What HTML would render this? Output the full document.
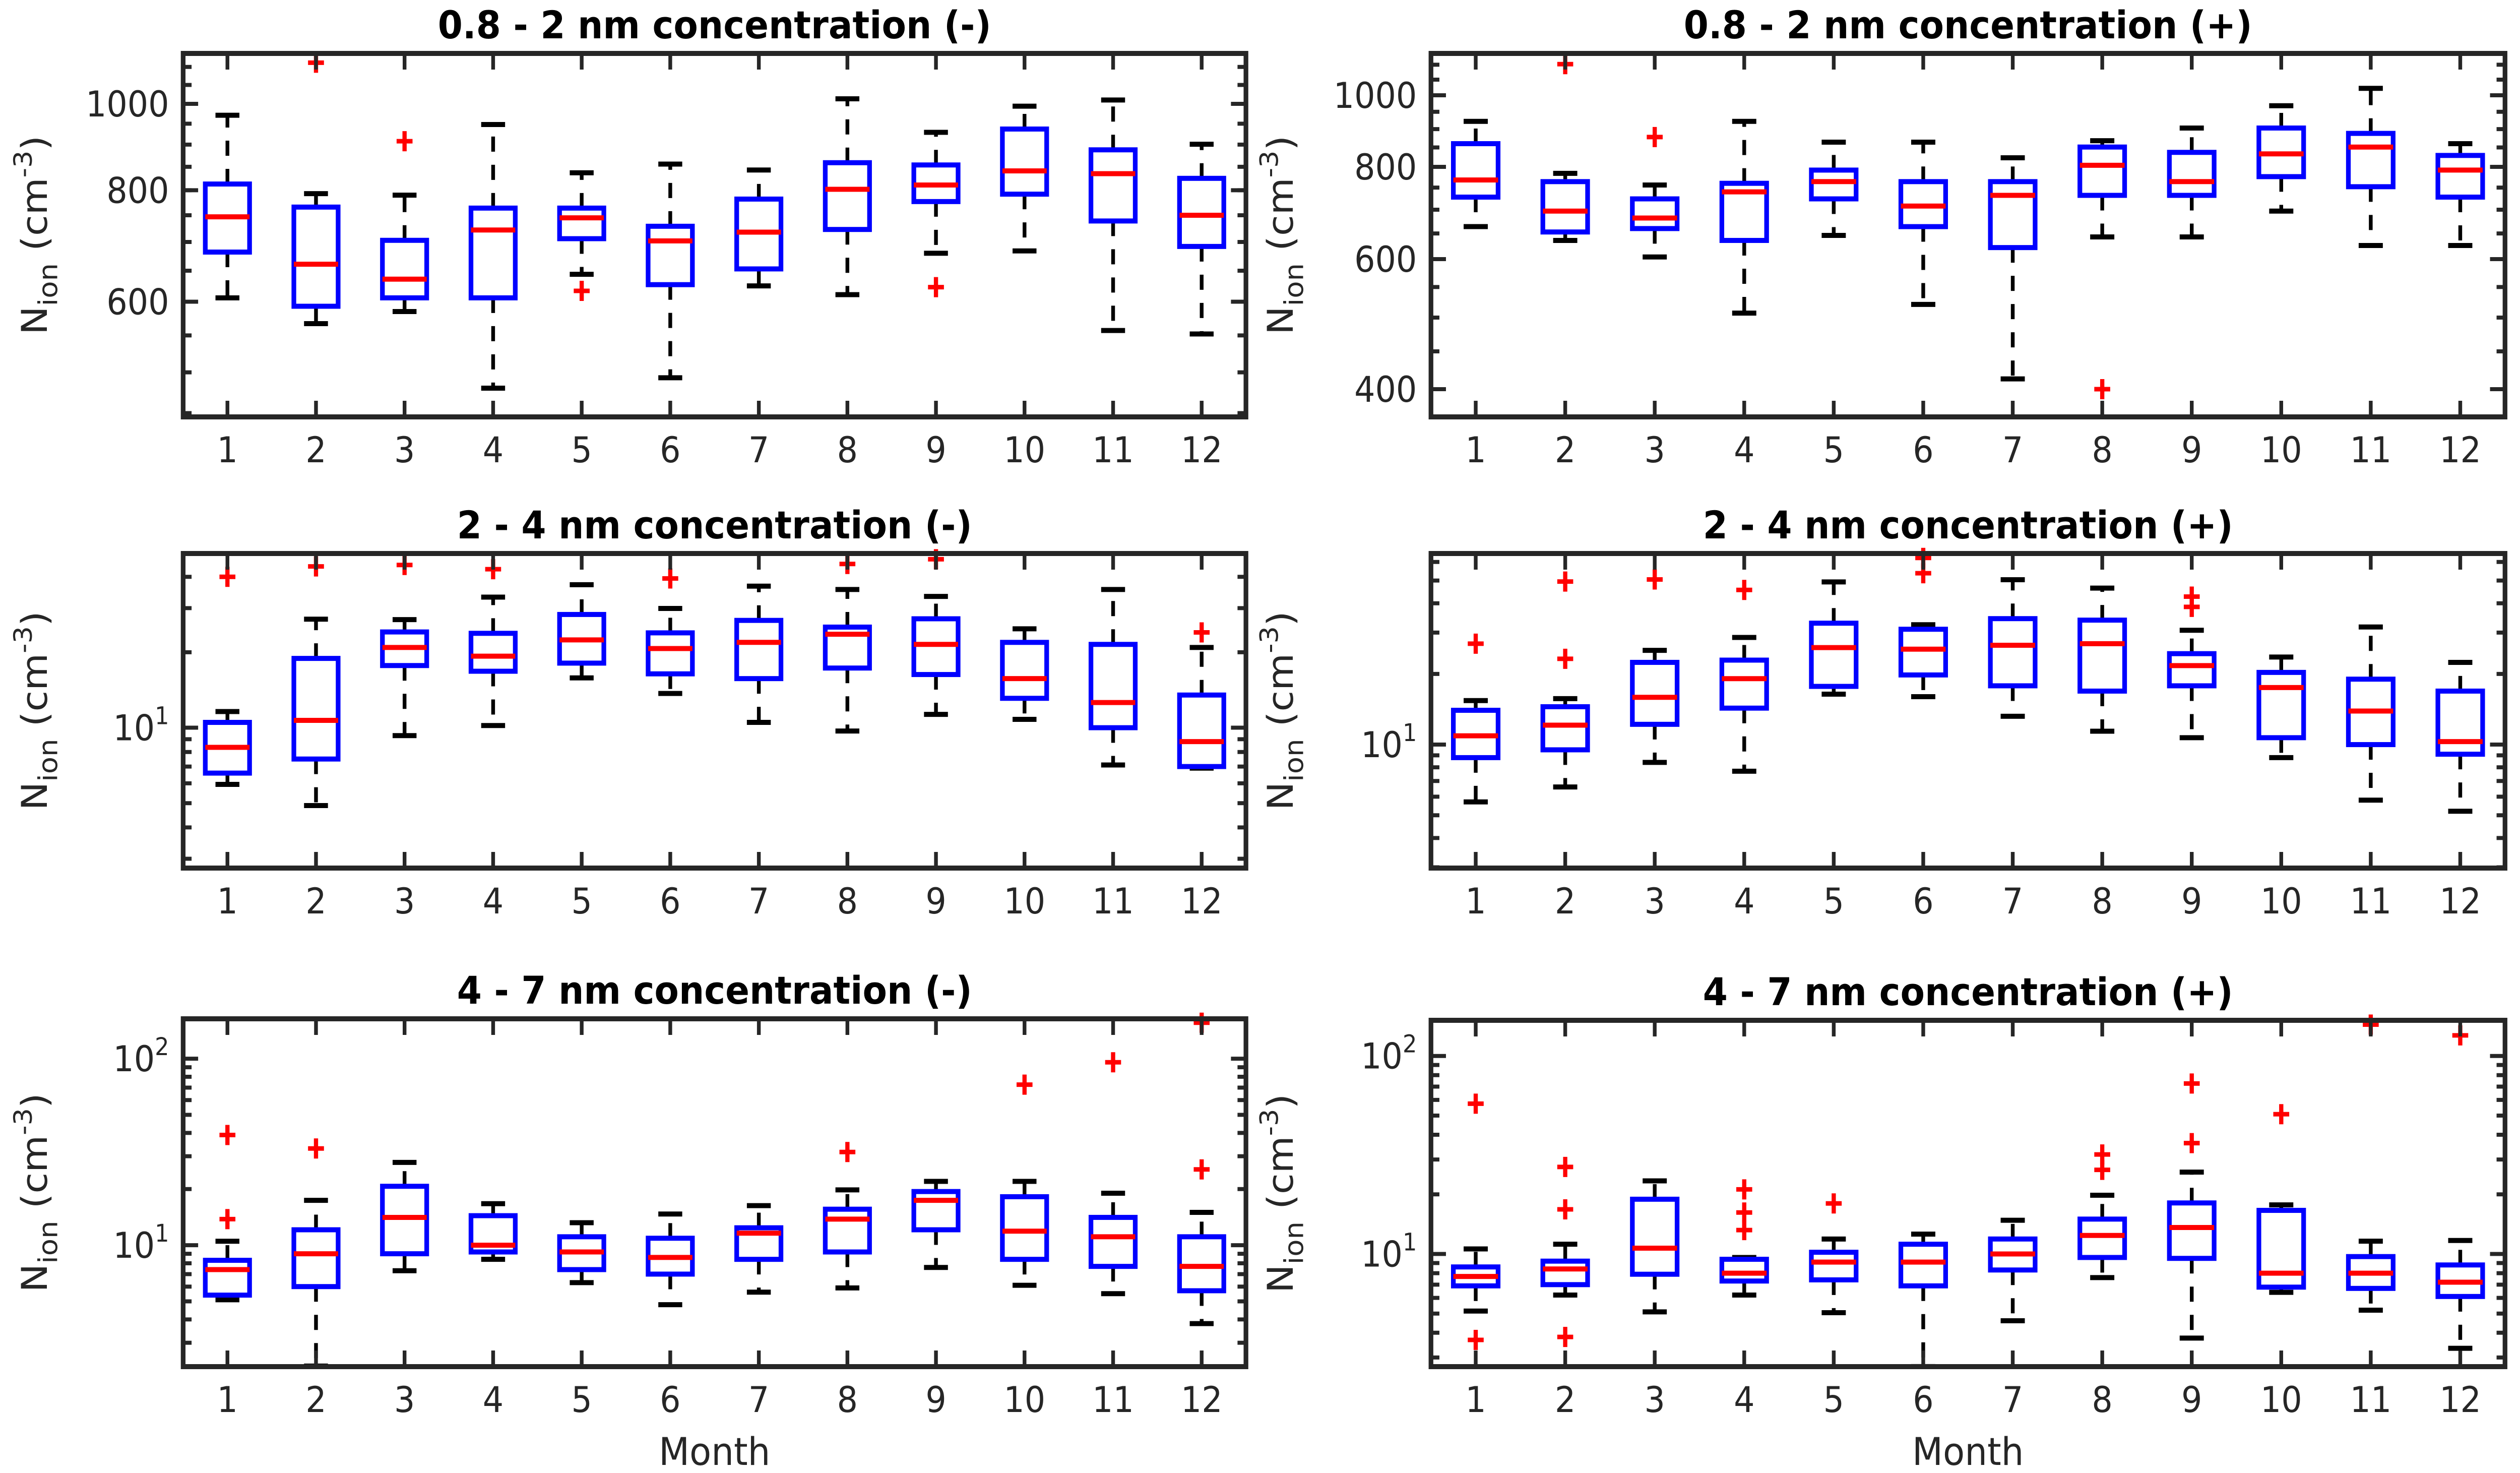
<!DOCTYPE html>
<html><head><meta charset="utf-8"><style>
html,body{margin:0;padding:0;background:#fff;overflow:hidden;width:100%;height:100%}
svg{display:block;width:100vw;height:100vh}
text{font-family:"DejaVu Sans","Liberation Sans",sans-serif;fill:#262626}
</style></head><body>
<svg id="fig" xmlns="http://www.w3.org/2000/svg" viewBox="0 0 5380 2922" preserveAspectRatio="none"></svg>
<script>
const months=[1,2,3,4,5,6,7,8,9,10,11,12];
const monthLabels=["1","2","3","4","5","6","7","8","9","10","11","12"];
// Panel 1: 0.8-2 nm (-)
const p1High=[971,793,790,948,837,856,843,1013,929,994,1010,901];
const p1Q3=[813,766,703,764,764,729,782,859,854,937,888,825];
const p1Med=[747,661,636,722,745,702,718,802,811,841,835,750];
const p1Q1=[682,593,606,606,706,627,653,723,777,792,739,692];
const p1Low=[606,567,585,480,644,493,625,611,680,684,557,552];
const p1Out=[[],[1112],[908],[],[617],[],[],[],[623],[],[],[]];
// Panel 2: 0.8-2 nm (+)
const p2High=[922,784,756,922,864,864,823,868,903,968,1022,860];
const p2Q3=[860,764,724,760,792,764,764,851,837,903,888,829];
const p2Med=[768,697,682,740,764,708,732,804,764,833,851,792];
const p2Q1=[728,653,660,636,724,664,622,732,732,776,752,728];
const p2Low=[664,636,604,507,646,521,413,643,643,697,626,626];
const p2Out=[[],[1102],[878],[],[],[],[],[400],[],[],[],[]];
// Panel 3: 2-4 nm (-)
const p3High=[11.6,27.1,27,33.2,37.2,29.9,36.7,35.6,33.4,24.8,35.6,20.9];
const p3Q3=[10.5,18.9,24.1,23.8,28.3,23.9,26.8,25.2,27.2,21.9,21.5,13.5];
const p3Med=[8.35,10.7,20.9,19.3,22.4,20.7,21.9,23.6,21.5,15.7,12.6,8.8];
const p3Q1=[6.59,7.5,17.7,16.8,18.1,16.4,15.7,17.3,16.3,13.1,10,7.0];
const p3Low=[5.94,4.89,9.3,10.2,15.8,13.7,10.5,9.7,11.3,10.8,7.1,6.9];
const p3Out=[[40],[44],[44.6],[42.9],[],[39.4],[],[45],[47],[],[],[24]];
// Panel 4: 2-4 nm (+)
const p4High=[15.4,15.7,25.2,28.6,49.3,32.4,50.4,46.4,30.7,23.6,31.7,22.4];
const p4Q3=[14,14.5,22.4,22.9,32.9,31,34.4,33.9,24.4,20.3,19.0,16.9];
const p4Med=[10.9,12.1,15.9,19.1,25.9,25.5,26.5,26.9,21.7,17.5,13.9,10.3];
const p4Q1=[8.8,9.5,12.2,14.3,17.7,19.8,17.8,16.9,17.8,10.7,10,9.1];
const p4Low=[5.7,6.6,8.4,7.7,16.4,16,13.2,11.4,10.7,8.8,5.8,5.2];
const p4Out=[[26.9],[23.2,49.5],[50.5],[45.6],[],[62.4,53.7],[],[],[42.7,38.6],[],[],[]];
// Panel 5: 4-7 nm (-)
const p5High=[10.5,17.4,27.8,16.7,13.2,14.7,16.3,19.8,22,22,19,15];
const p5Q3=[8.3,12.1,20.7,14.4,11.1,10.9,12.4,15.6,19.4,18.2,14.1,11.1];
const p5Med=[7.4,9.0,14.1,10,9.2,8.6,11.6,13.8,17.4,11.9,11.1,7.7];
const p5Q1=[5.4,6.0,9.0,9.2,7.4,7.0,8.4,9.2,12.1,8.4,7.7,5.7];
const p5Low=[5.1,2.25,7.3,8.4,6.3,4.8,5.6,5.9,7.6,6.1,5.5,3.8];
const p5Out=[[39,13.8],[33],[],[],[],[],[],[31.6],[],[72.6],[95.7],[156,25.5]];
// Panel 6: 4-7 nm (+)
const p6High=[10.6,11.2,23.4,9.6,11.9,12.6,14.8,19.8,25.9,17.7,11.6,11.7];
const p6Q3=[8.6,9.2,18.9,9.4,10.2,11.2,11.9,15,18.1,16.6,9.7,8.8];
const p6Med=[7.7,8.4,10.7,8.0,9.1,9.1,10,12.4,13.6,8.0,8.0,7.2];
const p6Q1=[6.9,7.0,7.9,7.3,7.4,6.9,8.3,9.6,9.5,6.8,6.7,6.1];
const p6Low=[5.15,6.2,5.1,6.2,5.05,2.7,4.6,7.6,3.76,6.4,5.2,3.34];
const p6Out=[[57.4,3.68],[27.5,16.8,3.81],[],[21.2,16.2,13.2],[18],[],[],[31.8,26.6],[72.6,36.3],[50.8],[144],[127]];

const NS="http://www.w3.org/2000/svg";
const svg=document.getElementById('fig');
function mk(tag,attrs,parent){const e=document.createElementNS(NS,tag);for(const k in attrs)e.setAttribute(k,attrs[k]);(parent||svg).appendChild(e);return e;}

const panels=[
 {id:'p1',title:'0.8 - 2 nm concentration (-)',x0:391,x1:2660,y0:106,y1:827,lt:3.0565,lb:2.649,high:p1High,q3:p1Q3,med:p1Med,q1:p1Q1,low:p1Low,out:p1Out,major:[600,800,1000],lin:true,xl:false},
 {id:'p2',title:'0.8 - 2 nm concentration (+)',x0:3055,x1:5348,y0:106,y1:827,lt:3.0567,lb:2.5645,high:p2High,q3:p2Q3,med:p2Med,q1:p2Q1,low:p2Low,out:p2Out,major:[400,600,800,1000],lin:true,xl:false},
 {id:'p3',title:'2 - 4 nm concentration (-)',x0:391,x1:2660,y0:1098,y1:1722,lt:1.695,lb:0.44,high:p3High,q3:p3Q3,med:p3Med,q1:p3Q1,low:p3Low,out:p3Out,major:[10],lin:false,xl:false},
 {id:'p4',title:'2 - 4 nm concentration (+)',x0:3055,x1:5348,y0:1098,y1:1722,lt:1.814,lb:0.474,high:p4High,q3:p4Q3,med:p4Med,q1:p4Q1,low:p4Low,out:p4Out,major:[10],lin:false,xl:false},
 {id:'p5',title:'4 - 7 nm concentration (-)',x0:391,x1:2660,y0:2021,y1:2711,lt:2.214,lb:0.349,high:p5High,q3:p5Q3,med:p5Med,q1:p5Q1,low:p5Low,out:p5Out,major:[10,100],lin:false,xl:true},
 {id:'p6',title:'4 - 7 nm concentration (+)',x0:3055,x1:5348,y0:2024,y1:2711,lt:2.18,lb:0.431,high:p6High,q3:p6Q3,med:p6Med,q1:p6Q1,low:p6Low,out:p6Out,major:[10,100],lin:false,xl:true}
];

panels.forEach(P=>{
  const g=mk('g',{});
  
  
  const X=m=>P.x0+(m-0.5)/12*(P.x1-P.x0);
  const Y=v=>{const l=Math.log10(v);const t=(P.lt-l)/(P.lt-P.lb);return P.y0+Math.max(-0.02,Math.min(1,t))*(P.y1-P.y0);};
  const step=(P.x1-P.x0)/12;
  const bw=step*0.5, cw=step*0.27;
  const cid='clip'+P.id;
  const cp=mk('clipPath',{id:cid},g);
  mk('rect',{x:P.x0,y:P.y0-40,width:P.x1-P.x0,height:P.y1-P.y0+40},cp);
  const dg=mk('g',{'clip-path':'url(#'+cid+')'},g);
  months.forEach((m,i)=>{
    const cx=X(m);
    const w1=mk('line',{x1:cx,x2:cx,y1:Y(P.q3[i]),y2:Y(P.high[i]),stroke:'#000','stroke-width':8,'stroke-dasharray':'30,26'},dg);
    
    
    const w2=mk('line',{x1:cx,x2:cx,y1:Y(P.q1[i]),y2:Y(P.low[i]),stroke:'#000','stroke-width':8,'stroke-dasharray':'30,26'},dg);
    
    
    const c1=mk('line',{x1:cx-cw/2,x2:cx+cw/2,y1:Y(P.high[i]),y2:Y(P.high[i]),stroke:'#000','stroke-width':10},dg);
    
    
    const c2=mk('line',{x1:cx-cw/2,x2:cx+cw/2,y1:Y(P.low[i]),y2:Y(P.low[i]),stroke:'#000','stroke-width':10},dg);
    
    
    const yq3=Y(P.q3[i]),yq1=Y(P.q1[i]);
    const b=mk('rect',{x:cx-bw/2,y:yq3,width:bw,height:yq1-yq3,fill:'#fff',stroke:'#0000ff','stroke-width':10},dg);
    
    
    const md=mk('line',{x1:cx-bw/2,x2:cx+bw/2,y1:Y(P.med[i]),y2:Y(P.med[i]),stroke:'#ff0000','stroke-width':10},dg);
    
    
    P.out[i].forEach(v=>{
      const oy=Y(v);
      const o=mk('path',{d:`M${cx-17},${oy}H${cx+17}M${cx},${oy-20}V${oy+20}`,stroke:'#ff0000','stroke-width':9,fill:'none'},dg);
      
      
    });
  });
  months.forEach((m,i)=>{
    const cx=X(m);
    mk('line',{x1:cx,x2:cx,y1:P.y1,y2:P.y1-32,stroke:'#262626','stroke-width':8},g);
    mk('line',{x1:cx,x2:cx,y1:P.y0,y2:P.y0+32,stroke:'#262626','stroke-width':8},g);
    const t=mk('text',{x:cx,y:P.y1+90,'text-anchor':'middle','font-size':70},g);
    t.textContent=monthLabels[i];
    
    
  });
  let minor=[];
  if(P.lin){for(let v=350;v<=1150;v+=50)minor.push(v);}
  else{for(let d=0.1;d<=100;d*=10)for(let k=2;k<=9;k++)minor.push(d*k);}
  minor.forEach(v=>{const l=Math.log10(v);if(l>P.lt||l<P.lb)return;const y=Y(v);
    mk('line',{x1:P.x0,x2:P.x0+18,y1:y,y2:y,stroke:'#262626','stroke-width':8},g);
    mk('line',{x1:P.x1,x2:P.x1-18,y1:y,y2:y,stroke:'#262626','stroke-width':8},g);});
  P.major.forEach(v=>{const y=Y(v);
    mk('line',{x1:P.x0,x2:P.x0+32,y1:y,y2:y,stroke:'#262626','stroke-width':8},g);
    mk('line',{x1:P.x1,x2:P.x1-32,y1:y,y2:y,stroke:'#262626','stroke-width':8},g);
    const t=mk('text',{x:P.x0-30,y:y+25,'text-anchor':'end','font-size':70},g);
    
    
    if(P.lin){t.textContent=String(v);}
    else{t.textContent='10';const s=mk('tspan',{dy:-32,'font-size':48},t);s.textContent=String(Math.round(Math.log10(v)));}
  });
  const fr=mk('rect',{x:P.x0,y:P.y0,width:P.x1-P.x0,height:P.y1-P.y0,fill:'none',stroke:'#262626','stroke-width':10},g);
  
  
  const tt=mk('text',{x:(P.x0+P.x1)/2,y:P.y0-30,'text-anchor':'middle','font-size':76,'font-weight':'bold',fill:'#000'},g);
  tt.textContent=P.title;
  tt.style.fill='#000';
  
  
  const ylx=P.x0<1000?100:2760, yly=(P.y0+P.y1)/2;
  const yl=mk('text',{x:0,y:0,'text-anchor':'middle','font-size':76,transform:`translate(${ylx},${yly}) rotate(-90)`},g);
  
  
  yl.appendChild(document.createTextNode('N'));
  const sb=mk('tspan',{dy:22,'font-size':56},yl);sb.textContent='ion';
  const sp=mk('tspan',{dy:-22},yl);sp.textContent=' (cm';
  const su=mk('tspan',{dy:-32,'font-size':54},yl);su.textContent='-3';
  const cl=mk('tspan',{dy:32},yl);cl.textContent=')';
  if(P.xl){
    const xl=mk('text',{x:(P.x0+P.x1)/2,y:P.y1+195,'text-anchor':'middle','font-size':76},g);
    xl.textContent='Month';
    
    
  }
});
</script>
</body></html>
